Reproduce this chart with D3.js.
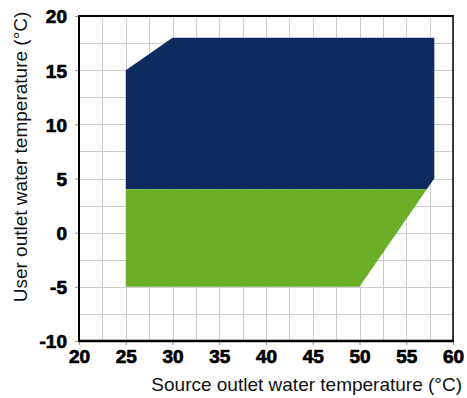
<!DOCTYPE html>
<html>
<head>
<meta charset="utf-8">
<script src="https://cdn.jsdelivr.net/npm/d3@7"></script>
<style>
  html, body { margin: 0; padding: 0; background: #fff; }
  svg { display: block; }
  text { font-family: "Liberation Sans", Arial, sans-serif; }
  .tick text { font-weight: bold; font-size: 19px; fill: #000; stroke: #000; stroke-width: 0.7px; }
  .title { font-size: 19px; fill: #111; }
</style>
</head>
<body>
<svg id="chart" width="467" height="398"></svg>
<script>
// Operating envelope: source outlet (x) vs user outlet (y), °C
const xTicks = [20, 25, 30, 35, 40, 45, 50, 55, 60];
const yTicks = [-10, -5, 0, 5, 10, 15, 20];
const gridStep = 2.5;

// Upper zone (dark blue)
const upperZone = [
  [25, 4], [25, 15], [30, 18], [58, 18], [58, 5], [57.2, 4]
];
// Lower zone (green)
const lowerZone = [
  [25, -5], [50, -5], [57.2, 4], [25, 4]
];

const xTitle = "Source outlet water temperature (°C)";
const yTitle = "User outlet water temperature (°C)";

const svg = d3.select("#chart");
const m = { left: 79, right: 14, top: 16, bottom: 57 };
const W = 467, H = 398;

const x = d3.scaleLinear().domain([20, 60]).range([m.left, W - m.right]);
const y = d3.scaleLinear().domain([-10, 20]).range([H - m.bottom, m.top]);

// grid
const gx = d3.range(20, 60 + 0.001, gridStep);
const gy = d3.range(-10, 20 + 0.001, gridStep);
const grid = svg.append("g").attr("stroke", "#cccccc").attr("stroke-width", 1);
grid.selectAll("line.v").data(gx).join("line")
  .attr("x1", d => Math.round(x(d)) + 0.5).attr("x2", d => Math.round(x(d)) + 0.5)
  .attr("y1", y(-10)).attr("y2", y(20));
grid.selectAll("line.h").data(gy).join("line")
  .attr("y1", d => Math.round(y(d)) + 0.5).attr("y2", d => Math.round(y(d)) + 0.5)
  .attr("x1", x(20)).attr("x2", x(60));

// zones
const line = d3.line().x(d => x(d[0])).y(d => y(d[1]));
svg.append("path").attr("d", line(upperZone) + "Z").attr("fill", "#0e2b5f");
svg.append("path").attr("d", line(lowerZone) + "Z").attr("fill", "#6bae27");

// axes (plain hyphen for negatives)
const fmt = d => String(d);
const xAxis = d3.axisBottom(x).tickValues(xTicks).tickFormat(fmt).tickSize(4).tickPadding(5);
const yAxis = d3.axisLeft(y).tickValues(yTicks).tickFormat(fmt).tickSize(4).tickPadding(8);

const gxA = svg.append("g").attr("transform", `translate(0,${y(-10)})`).call(xAxis);
const gyA = svg.append("g").attr("transform", `translate(${x(20)},0)`).call(yAxis);
[gxA, gyA].forEach(g => {
  g.attr("font-family", null).attr("font-size", null);
  g.select(".domain").remove();
  g.selectAll(".tick line").attr("stroke", "#999");
});
gyA.selectAll(".tick text").attr("dy", "0.36em");

// frame
const frame = svg.append("g").attr("stroke", "#000").attr("fill", "none");
frame.append("line").attr("x1", x(20) - 1).attr("x2", x(60) + 1).attr("y1", y(-10)).attr("y2", y(-10)).attr("stroke-width", 2.5);
frame.append("line").attr("x1", x(20)).attr("x2", x(20)).attr("y1", y(20)).attr("y2", y(-10)).attr("stroke-width", 2);
frame.append("line").attr("x1", x(20) - 1).attr("x2", x(60) + 1).attr("y1", y(20)).attr("y2", y(20)).attr("stroke-width", 2);
frame.append("line").attr("x1", x(60)).attr("x2", x(60)).attr("y1", y(20)).attr("y2", y(-10)).attr("stroke-width", 1.5);

// titles
svg.append("text").attr("class", "title")
  .attr("x", 462).attr("y", 391)
  .attr("text-anchor", "end")
  .text(xTitle);

svg.append("text").attr("class", "title")
  .attr("transform", `translate(27,157) rotate(-90)`)
  .attr("text-anchor", "middle")
  .text(yTitle);
</script>
</body>
</html>
